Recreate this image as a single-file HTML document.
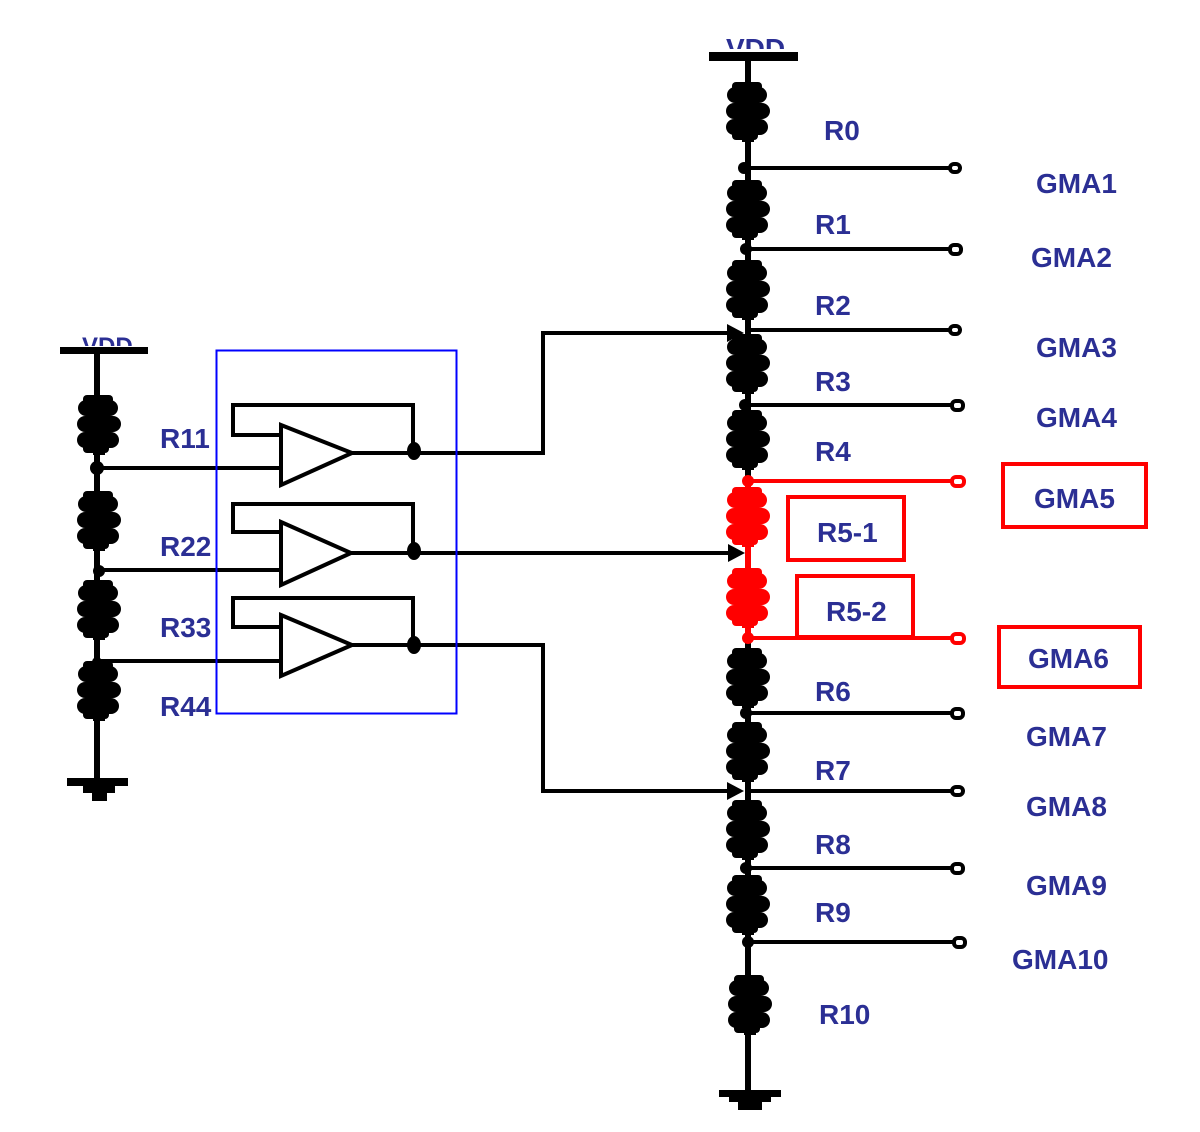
<!DOCTYPE html>
<html><head><meta charset="utf-8"><style>
html,body{margin:0;padding:0;background:#fff}
svg{display:block}
text{font-family:"Liberation Sans",sans-serif;font-size:28px;fill:#2b2f94;font-weight:bold}
</style></head><body>
<svg width="1200" height="1132" viewBox="0 0 1200 1132" xmlns="http://www.w3.org/2000/svg">
<defs>
<g id="res">
<rect x="-6" y="-30" width="12" height="60"/>
<rect x="-21" y="-25" width="40" height="16" rx="8"/>
<rect x="-22" y="-9" width="44" height="16" rx="8"/>
<rect x="-22" y="7" width="42" height="16" rx="8"/>
<rect x="-16" y="-30" width="30" height="9" rx="4"/>
<rect x="-16" y="19" width="26" height="9" rx="4"/>
</g>
<clipPath id="topclip"><rect x="0" y="0" width="1200" height="49"/></clipPath>
<clipPath id="lclip"><rect x="0" y="0" width="1200" height="346"/></clipPath>
</defs>

<text x="726" y="58" clip-path="url(#topclip)">VDD</text>
<text x="82" y="354" clip-path="url(#lclip)" style="font-size:24px">VDD</text>

<!-- Right chain -->
<rect x="709" y="52" width="89" height="9" fill="#000"/>
<line x1="748" y1="56" x2="748" y2="1095" stroke="#000" stroke-width="6"/>
<g fill="#000">
<use href="#res" x="748" y="112"/>
<use href="#res" x="748" y="210"/>
<use href="#res" x="748" y="290"/>
<use href="#res" x="748" y="364"/>
<use href="#res" x="748" y="440"/>
<use href="#res" x="748" y="678"/>
<use href="#res" x="748" y="752"/>
<use href="#res" x="748" y="830"/>
<use href="#res" x="748" y="905"/>
<use href="#res" x="750" y="1005"/>
</g>
<line x1="748" y1="481" x2="748" y2="637" stroke="#f00" stroke-width="6"/>
<g fill="#f00">
<use href="#res" x="748" y="517"/>
<use href="#res" x="748" y="598"/>
</g>
<rect x="719" y="1090" width="62" height="7" fill="#000"/>
<rect x="729" y="1096" width="42" height="6" fill="#000"/>
<rect x="738" y="1101" width="24" height="9" fill="#000"/>

<g stroke="#000" stroke-width="4" fill="#fff">
<line x1="748" y1="168" x2="950" y2="168"/><rect x="950" y="164" width="10" height="8" rx="4"/>
<line x1="748" y1="249" x2="950" y2="249"/><rect x="950" y="245" width="11" height="9" rx="4"/>
<line x1="748" y1="330" x2="950" y2="330"/><rect x="950" y="326" width="10" height="8" rx="4"/>
<line x1="748" y1="405" x2="952" y2="405"/><rect x="952" y="401" width="11" height="9" rx="4"/>
<line x1="748" y1="713" x2="952" y2="713"/><rect x="952" y="709" width="11" height="9" rx="4"/>
<line x1="748" y1="791" x2="952" y2="791"/><rect x="952" y="787" width="11" height="8" rx="4"/>
<line x1="748" y1="868" x2="952" y2="868"/><rect x="952" y="864" width="11" height="9" rx="4"/>
<line x1="748" y1="942" x2="954" y2="942"/><rect x="954" y="938" width="11" height="9" rx="4"/>
</g>
<g fill="#000">
<circle cx="744" cy="168" r="6"/><circle cx="746" cy="249" r="6"/><circle cx="745" cy="405" r="6"/>
<circle cx="746" cy="713" r="6"/><circle cx="746" cy="868" r="6"/><circle cx="748" cy="942" r="6"/>
</g>
<g stroke="#f00" stroke-width="4" fill="#fff">
<line x1="748" y1="481" x2="952" y2="481"/><rect x="952" y="477" width="12" height="9" rx="4"/>
<line x1="748" y1="638" x2="952" y2="638"/><rect x="952" y="634" width="12" height="9" rx="4"/>
<rect x="788" y="497" width="116" height="63" fill="none"/>
<rect x="797" y="576" width="116" height="61" fill="none"/>
<rect x="1003" y="464" width="143" height="63" fill="none"/>
<rect x="999" y="627" width="141" height="60" fill="none"/>
</g>
<g fill="#f00"><circle cx="748" cy="481" r="6"/><circle cx="748" cy="638" r="6"/></g>

<!-- Left chain -->
<rect x="60" y="347" width="88" height="7" fill="#000"/>
<line x1="97" y1="350" x2="97" y2="785" stroke="#000" stroke-width="6"/>
<g fill="#000">
<use href="#res" x="99" y="425"/>
<use href="#res" x="99" y="521"/>
<use href="#res" x="99" y="610"/>
<use href="#res" x="99" y="691"/>
<circle cx="97" cy="468" r="7"/><circle cx="99" cy="571" r="6"/><circle cx="97" cy="662" r="5"/>
</g>
<rect x="67" y="778" width="61" height="8" fill="#000"/>
<rect x="83" y="785" width="32" height="8" fill="#000"/>
<rect x="92" y="792" width="15" height="9" fill="#000"/>

<g stroke="#000" stroke-width="4" fill="none">
<line x1="97" y1="468" x2="281" y2="468"/>
<line x1="97" y1="570" x2="281" y2="570"/>
<line x1="97" y1="661" x2="281" y2="661"/>
<path d="M281 425 L352 453 L281 485 Z" fill="#fff"/>
<path d="M281 522 L351 553 L281 585 Z" fill="#fff"/>
<path d="M281 615 L352 645 L281 676 Z" fill="#fff"/>
<path d="M281 435 H233 V405 H413 V451"/>
<path d="M281 532 H233 V504 H413 V550"/>
<path d="M281 627 H233 V598 H413 V644"/>
<path d="M352 453 H543 V333 H730"/>
<path d="M351 553 H730"/>
<path d="M352 645 H543 V791 H730"/>
</g>
<g fill="#000">
<ellipse cx="414" cy="451" rx="7" ry="9"/><ellipse cx="414" cy="551" rx="7" ry="9"/><ellipse cx="414" cy="645" rx="7" ry="9"/>
<path d="M727 324 L744 333 L727 342 Z"/>
<path d="M728 544 L745 553 L728 562 Z"/>
<path d="M727 782 L744 791 L727 800 Z"/>
</g>
<rect x="216.5" y="350.5" width="240" height="363" fill="none" stroke="#0000ff" stroke-width="2"/>

<text x="824" y="140">R0</text>
<text x="815" y="234">R1</text>
<text x="815" y="315">R2</text>
<text x="815" y="391">R3</text>
<text x="815" y="461">R4</text>
<text x="817" y="542">R5-1</text>
<text x="826" y="621">R5-2</text>
<text x="815" y="701">R6</text>
<text x="815" y="780">R7</text>
<text x="815" y="854">R8</text>
<text x="815" y="922">R9</text>
<text x="819" y="1024">R10</text>
<text x="1036" y="193">GMA1</text>
<text x="1031" y="267">GMA2</text>
<text x="1036" y="357">GMA3</text>
<text x="1036" y="427">GMA4</text>
<text x="1034" y="508">GMA5</text>
<text x="1028" y="668">GMA6</text>
<text x="1026" y="746">GMA7</text>
<text x="1026" y="816">GMA8</text>
<text x="1026" y="895">GMA9</text>
<text x="1012" y="969">GMA10</text>
<text x="160" y="448">R11</text>
<text x="160" y="556">R22</text>
<text x="160" y="637">R33</text>
<text x="160" y="716">R44</text>
</svg>
</body></html>
